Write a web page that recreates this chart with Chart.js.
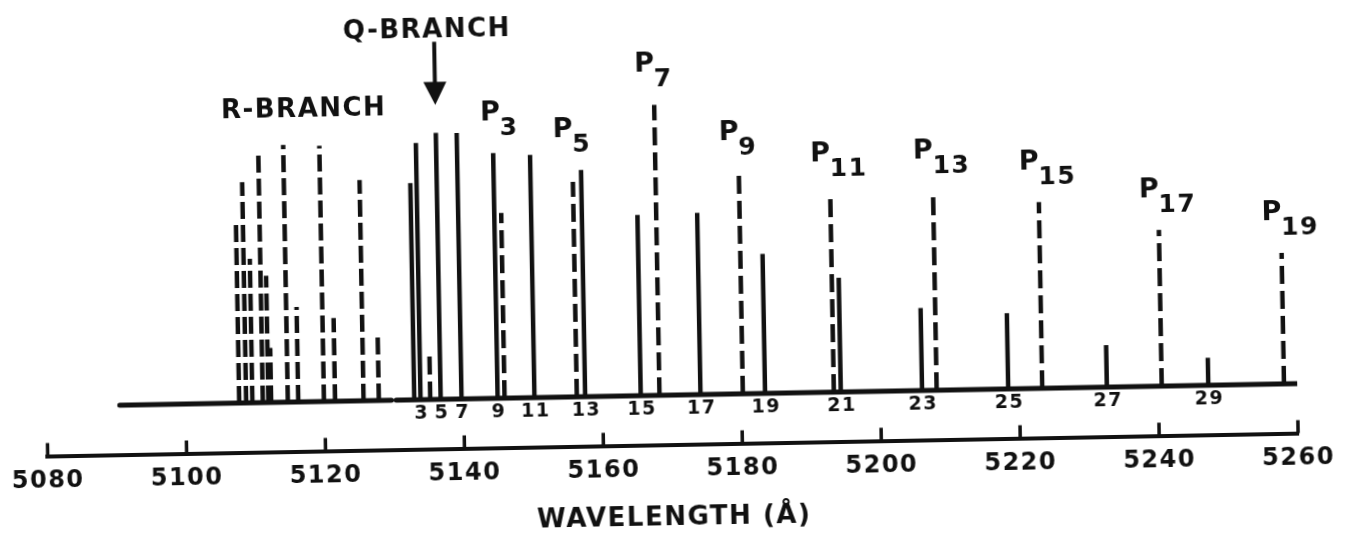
<!DOCTYPE html>
<html>
<head>
<meta charset="utf-8">
<title>Q, P and R branch lines, 5080-5260 Å</title>
<script src="https://cdn.jsdelivr.net/npm/chart.js"></script>
<style>
  html, body { margin: 0; padding: 0; background: #fff; overflow: hidden; }
  /* the scanned original sits about one degree off square */
  #wrap {
    width: 1352px;
    height: 538px;
    transform: rotate(-1.05deg);
    transform-origin: 676px 269px;
  }
</style>
</head>
<body>
<div id="wrap"><canvas id="spectrum"></canvas></div>
<script>
  // R-branch lines (dashed), wavelength in Å and relative intensity
  const rWl = [5107.7, 5108.7, 5109.6, 5111.1, 5111.9, 5112.3, 5114.7, 5116.2, 5119.9, 5121.5, 5125.6, 5127.8];
  const rInt = [68.0, 83.0, 54.1, 95.0, 47.6, 20.5, 96.7, 35.7, 96.1, 31.3, 83.0, 24.6];

  // Q-branch lines (solid) and their J labels
  const qWl = [5132.9, 5133.8, 5136.7, 5139.7, 5144.9, 5150.2, 5157.5, 5165.5, 5174.1, 5183.4, 5194.3, 5206.0, 5218.4, 5232.6, 5247.2];
  const qInt = [81.5, 96.5, 100.2, 100.0, 92.2, 91.2, 85.2, 67.9, 68.3, 52.4, 42.9, 31.0, 28.5, 15.8, 10.3];
  const qJ = ["", "3", "5", "7", "9", "11", "13", "15", "17", "19", "21", "23", "25", "27", "29"];

  // P-branch lines (dashed) and their subscripts
  const pWl = [5135.2, 5145.9, 5156.3, 5168.2, 5180.2, 5193.3, 5208.1, 5223.3, 5240.5, 5258.1];
  const pInt = [16.7, 69.6, 80.8, 109.2, 83.0, 74.5, 74.9, 70.0, 58.7, 49.2];
  const pJ = ["", "3", "5", "7", "9", "11", "13", "15", "17", "19"];

  // spectrum baseline pieces (Å)
  const baseFrom = [5090.5, 5130.3];
  const baseTo = [5129.6, 5260.0];

  // Q-branch head marked by the arrow (Å)
  const qBranchHead = 5136.7;

  // wavelength axis
  const wlMin = 5080;
  const wlMax = 5260;
  const wlStep = 20;
  const axisTitle = "WAVELENGTH (Å)";

  const ink = "#111";
  const font = "'DejaVu Sans', sans-serif";

  function sticks(wl, vals) {
    const pts = [];
    wl.forEach((w, i) => {
      pts.push({ x: w, y: 0 }, { x: w, y: vals[i] }, { x: w, y: null });
    });
    return pts;
  }

  function baseline() {
    const pts = [];
    baseFrom.forEach((a, i) => {
      pts.push({ x: a, y: 0 }, { x: baseTo[i], y: 0 }, { x: baseTo[i], y: null });
    });
    return pts;
  }

  /**
   * Labels, arrow and upward tick marks
   */
  const spectrumLabels = {
    id: "spectrumLabels",
    beforeDraw(chart) {
      chart.ctx.letterSpacing = "1.5px";
    },
    afterDraw(chart) {
      const { ctx, scales, chartArea } = chart;
      const xs = scales.x;
      const ys = scales.y;
      const base = ys.getPixelForValue(0);

      ctx.save();
      ctx.fillStyle = ink;
      ctx.strokeStyle = ink;
      ctx.letterSpacing = "1.5px";

      // tick marks stand up from the wavelength axis
      ctx.lineWidth = 3.5;
      xs.ticks.forEach((t) => {
        const x = xs.getPixelForValue(t.value);
        ctx.beginPath();
        ctx.moveTo(x, chartArea.bottom);
        ctx.lineTo(x, chartArea.bottom - 13);
        ctx.stroke();
      });

      // J numbers under the solid lines
      ctx.font = "bold 19px " + font;
      ctx.textAlign = "center";
      ctx.textBaseline = "middle";
      qJ.forEach((j, i) => {
        if (!j) return;
        ctx.fillText(j, xs.getPixelForValue(qWl[i]) + 1, base + 14);
      });

      // P labels, lifted clear of any line close by
      const allWl = rWl.concat(qWl, pWl);
      const allInt = rInt.concat(qInt, pInt);
      ctx.textBaseline = "alphabetic";
      pJ.forEach((j, i) => {
        if (!j) return;
        let top = pInt[i];
        allWl.forEach((w, k) => {
          if (Math.abs(w - pWl[i]) <= 1.5) top = Math.max(top, allInt[k]);
        });
        const x = xs.getPixelForValue(pWl[i]);
        const y = ys.getPixelForValue(top) - 18;
        ctx.font = "bold 27px " + font;
        ctx.textAlign = "right";
        ctx.fillText("P", x + 2, y - 15);
        ctx.font = "bold 25px " + font;
        ctx.textAlign = "left";
        ctx.fillText(j, x, y);
      });

      // R-BRANCH over the middle of its lines
      ctx.font = "bold 26px " + font;
      ctx.textAlign = "center";
      const rMid = (Math.min(...rWl) + Math.max(...rWl)) / 2;
      ctx.fillText("R-BRANCH", xs.getPixelForValue(rMid), ys.getPixelForValue(Math.max(...rInt)) - 28);

      // Q-BRANCH arrow pointing at the head
      const ax = xs.getPixelForValue(qBranchHead);
      const tip = ys.getPixelForValue(Math.max(...qInt)) - 28;
      ctx.lineWidth = 4;
      ctx.beginPath();
      ctx.moveTo(ax, tip - 63);
      ctx.lineTo(ax, tip - 20);
      ctx.stroke();
      ctx.beginPath();
      ctx.moveTo(ax - 11.5, tip - 23);
      ctx.lineTo(ax + 11.5, tip - 23);
      ctx.lineTo(ax, tip);
      ctx.closePath();
      ctx.fill();
      ctx.fillText("Q-BRANCH", ax - 7, tip - 67);

      ctx.restore();
    },
  };

  Chart.defaults.font.family = font;
  Chart.defaults.color = ink;

  new Chart(document.getElementById("spectrum"), {
    type: "line",
    data: {
      datasets: [
        {
          label: "baseline",
          data: baseline(),
          borderColor: ink,
          borderWidth: 5,
          borderCapStyle: "round",
        },
        {
          label: "Q branch",
          data: sticks(qWl, qInt),
          borderColor: ink,
          borderWidth: 4.5,
        },
        {
          label: "P branch",
          data: sticks(pWl, pInt),
          borderColor: ink,
          borderWidth: 4.5,
          borderDash: [18, 7],
        },
        {
          label: "R branch",
          data: sticks(rWl, rInt),
          borderColor: ink,
          borderWidth: 4.5,
          borderDash: [17, 6],
        },
      ],
    },
    options: {
      responsive: true,
      maintainAspectRatio: false,
      animation: false,
      spanGaps: false,
      elements: {
        point: { radius: 0, hoverRadius: 0 },
        line: { tension: 0, borderCapStyle: "butt" },
      },
      layout: {
        padding: { left: 42.6, right: 57, top: 10, bottom: 0 },
      },
      plugins: {
        legend: { display: false },
        tooltip: { enabled: false },
      },
      events: [],
      scales: {
        x: {
          type: "linear",
          min: wlMin,
          max: wlMax,
          afterFit: function (scale) {
            scale.height = 93.5;
          },
          ticks: {
            stepSize: wlStep,
            autoSkip: false,
            maxRotation: 0,
            padding: 11,
            color: ink,
            font: { size: 24, weight: "bold" },
            callback: (value) => String(value),
          },
          grid: {
            drawOnChartArea: false,
            drawTicks: false,
          },
          border: {
            display: true,
            color: ink,
            width: 4,
          },
          title: {
            display: true,
            text: axisTitle,
            color: ink,
            font: { size: 26, weight: "bold" },
            padding: { top: 0, bottom: 4 },
          },
        },
        y: {
          display: false,
          min: -18.6,
          max: 144.7,
        },
      },
    },
    plugins: [spectrumLabels],
  });
</script>
</body>
</html>
